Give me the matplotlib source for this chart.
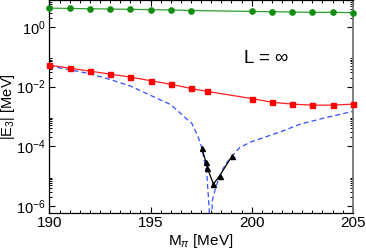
# plot.py
#
# |E3| vs pion mass at L = infinity: three curves on a log axis plus the
# dashed blue curve that dips to zero near M_pi = 198 MeV.

import math

import matplotlib

matplotlib.use("Agg")
import matplotlib.pyplot as plt
from matplotlib.ticker import FixedLocator, FuncFormatter, MultipleLocator

plt.rcParams["font.family"] = ["Liberation Sans", "DejaVu Sans"]
plt.rcParams["mathtext.fontset"] = "custom"
plt.rcParams["mathtext.rm"] = "Liberation Sans"
plt.rcParams["mathtext.it"] = "Liberation Sans:italic"

# green circles (upper branch)
green_x = [190, 191, 192, 193, 194, 195, 196, 197, 200, 201, 202, 203, 204, 205]
green_y = [4.27, 4.17, 4.07, 3.98, 3.89, 3.80, 3.72, 3.55, 3.31, 3.24, 3.16, 3.09, 3.09, 3.02]

# red squares
red_x = [190, 191, 192, 193, 194, 195, 196, 197, 197.8, 200, 201, 202, 203, 204, 205]
red_y = [0.0525, 0.0417, 0.0331, 0.0263, 0.0209, 0.0158, 0.0120, 0.0087, 0.0069,
         0.0040, 0.0030, 0.0026, 0.0024, 0.0024, 0.0026]

# blue dashed curve (goes through zero around 197.95)
blue_x = [190, 191, 192, 193, 194, 195, 196, 196.8, 197.04, 197.36, 197.54, 197.78,
          197.9, 197.94, 197.98, 198.05, 198.19, 198.41, 198.7, 199.02, 199.4, 199.9,
          201.55, 202.38, 203.7, 205]
blue_y = [0.049, 0.037, 0.027, 0.0174, 0.0105, 0.0051, 0.0025, 8.1e-4, 5.9e-4, 2.0e-4,
          8.5e-5, 1.26e-5, 7.6e-7, 1e-8, 1e-8, 1.5e-6, 3.5e-6, 1.0e-5, 2.5e-5, 4.6e-5,
          9e-5, 1.35e-4, 3.3e-4, 5.5e-4, 9.3e-4, 1.48e-3]

# black triangles near the dip
black_x = [197.54, 197.73, 197.81, 198.11, 198.41, 199.02]
black_y = [8.5e-5, 3.1e-5, 1.86e-5, 5.4e-6, 1.02e-5, 4.6e-5]

y_major = [1e-6, 1e-4, 1e-2, 1]
y_minor = [n * 10.0 ** k for k in (-6, -4, -2, 0) for n in range(2, 10)]


def power_label(v, pos):
    return r"$\mathdefault{10^{%d}}$" % round(math.log10(v))


def main():
    fig = plt.figure(figsize=(3.66, 2.49), dpi=100)
    ax = fig.add_axes([0.135, 0.146, 0.829, 0.854])

    ax.plot(green_x, green_y, color="#2ca02c", lw=0.9, marker="o", ms=3.8,
            mfc="#148c14", mec="#148c14", clip_on=False, zorder=3)
    ax.plot(red_x, red_y, color="#ff2020", lw=0.9, marker="s", ms=3.6,
            mfc="#ff0000", mec="#ff0000", clip_on=False, zorder=3)
    ax.plot(blue_x, blue_y, color="#3050ff", lw=0.9, ls=(0, (4, 2.5)), zorder=2)
    ax.plot(black_x, black_y, color="black", lw=0.9, marker="^", ms=3.6, zorder=4)

    ax.set_yscale("log")
    ax.set_xlim(190, 205)
    ax.set_ylim(6e-7, 8)

    ax.xaxis.set_major_locator(MultipleLocator(5))
    ax.xaxis.set_minor_locator(MultipleLocator(0.5))
    ax.yaxis.set_major_locator(FixedLocator(y_major))
    ax.yaxis.set_minor_locator(FixedLocator(y_minor))
    ax.yaxis.set_major_formatter(FuncFormatter(power_label))

    ax.tick_params(which="both", direction="in", top=True, right=True, labelsize=11)
    ax.tick_params(axis="y", labelsize=10.5)
    ax.tick_params(which="major", length=4, width=0.8, pad=2.5)
    ax.tick_params(which="minor", length=2.3, width=0.7)
    for side in ax.spines.values():
        side.set_linewidth(0.9)
    ax.spines["right"].set_color("#777777")
    ax.spines["right"].set_linewidth(1.3)

    ax.set_xlabel(r"M$_\pi$ [MeV]", fontsize=11, labelpad=1)
    ax.set_ylabel(r"|E$_3$| [MeV]", fontsize=10.5)
    ax.yaxis.set_label_coords(-0.108, 0.5)
    ax.text(0.715, 0.725, r"L = $\infty$", transform=ax.transAxes, fontsize=13.5,
            ha="center", va="center")

    fig.savefig("out.png", dpi=100)
    plt.close(fig)


if __name__ == "__main__":
    main()
